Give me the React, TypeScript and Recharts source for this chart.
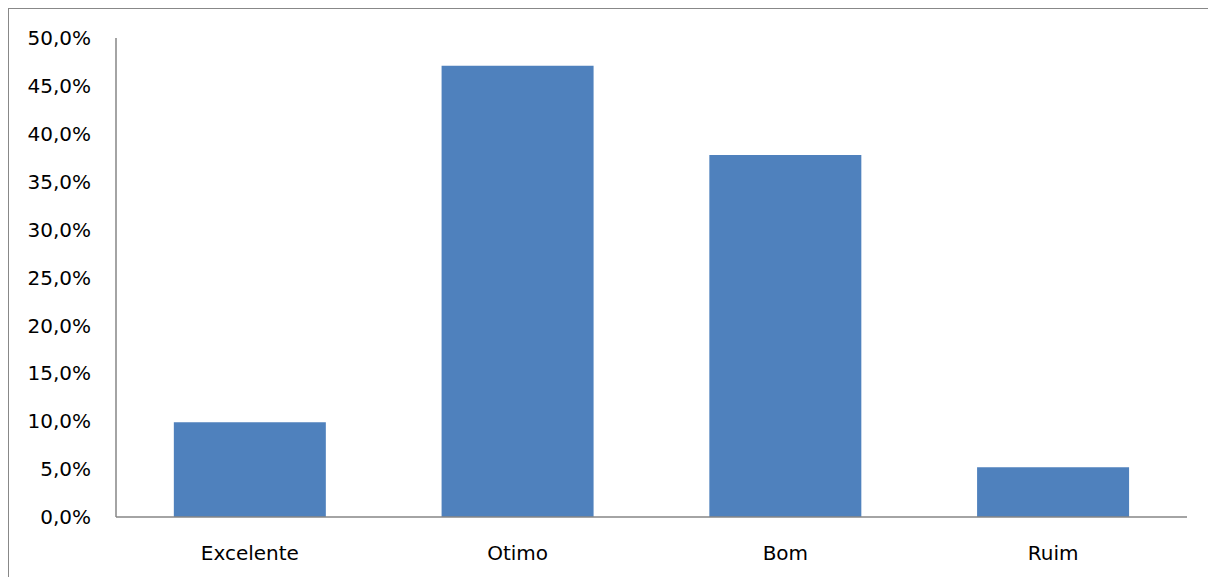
import React from "react";
import { BarChart, Bar, XAxis, YAxis } from "recharts";

const categories = ["Excelente", "Otimo", "Bom", "Ruim"];
const values = [9.9, 47.1, 37.8, 5.2];
const yTicks = [0, 5, 10, 15, 20, 25, 30, 35, 40, 45, 50];

const data = categories.map((c, i) => ({ name: c, value: values[i] }));

const fmt = (v: number) => v.toFixed(1).replace(".", ",") + "%";

export default function App() {
  return (
    <div style={{ width: 1206, height: 569, border: "1px solid #888", boxSizing: "content-box", background: "#fff" }}>
      <BarChart
        width={1206}
        height={569}
        data={data}
        margin={{ top: 29, right: 28, left: 0, bottom: 0 }}
        barCategoryGap="21.6%"
      >
        <XAxis
          dataKey="name"
          height={61}
          tickLine={false}
          tickSize={0}
          tickMargin={29}
          axisLine={{ stroke: "#868686", strokeWidth: 1.5 }}
          tick={{ fill: "#000", fontSize: 20, fontFamily: "DejaVu Sans" }}
        />
        <YAxis
          width={107}
          domain={[0, 50]}
          ticks={yTicks}
          interval={0}
          tickFormatter={fmt}
          tickLine={false}
          tickSize={0}
          tickMargin={25}
          axisLine={{ stroke: "#868686", strokeWidth: 1.5 }}
          tick={{ fill: "#000", fontSize: 20, fontFamily: "DejaVu Sans" }}
        />
        <Bar dataKey="value" fill="#4F81BD" isAnimationActive={false} />
      </BarChart>
    </div>
  );
}
